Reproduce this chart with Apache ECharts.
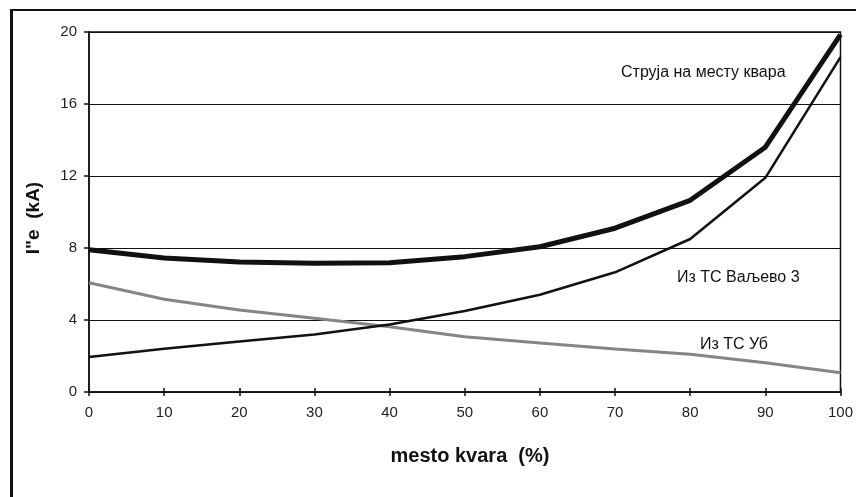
<!DOCTYPE html>
<html>
<head>
<meta charset="utf-8">
<script src="https://cdn.jsdelivr.net/npm/echarts@6/dist/echarts.min.js"></script>
<style>
html,body{margin:0;padding:0;background:#fff;}
#frame{position:absolute;left:10px;top:9px;width:900px;height:600px;border-left:3px solid #111;border-top:2px solid #111;}
#chart{position:absolute;left:0;top:0;width:856px;height:497px;}
</style>
</head>
<body>
<div id="frame"></div>
<div id="chart"></div>
<script>
var xValues = [0, 10, 20, 30, 40, 50, 60, 70, 80, 90, 100];
var faultCurrent = [7.9, 7.45, 7.22, 7.15, 7.18, 7.52, 8.07, 9.1, 10.65, 13.6, 19.85];
var fromValjevo = [1.95, 2.4, 2.8, 3.2, 3.75, 4.5, 5.4, 6.65, 8.5, 11.9, 18.6];
var fromUb = [6.07, 5.15, 4.55, 4.1, 3.63, 3.07, 2.72, 2.39, 2.1, 1.63, 1.07];
var seriesNames = ['Струја на месту квара', 'Из ТС Ваљево 3', 'Из ТС Уб'];
var xTitle = 'mesto kvara  (%)';
var yTitle = 'I"e  (kA)';

function pairs(vals){ return xValues.map(function(x,i){ return [x, vals[i]]; }); }

var chart = echarts.init(document.getElementById('chart'), null, {renderer:'canvas'});
var font = '"Liberation Sans", Arial, sans-serif';
chart.setOption({
  animation:false,
  backgroundColor:'transparent',
  grid:{left:89, right:15, top:32, bottom:105, show:true, borderColor:'#111', borderWidth:1.5},
  xAxis:[{
    type:'value', min:0, max:100, interval:10,
    axisLine:{onZero:false, lineStyle:{color:'#111', width:1.5}},
    axisTick:{show:true, length:4, lineStyle:{color:'#111', width:1.5}},
    axisLabel:{color:'#222', fontSize:15, fontFamily:font, margin:13},
    splitLine:{show:false}
  },{
    type:'value', min:0, max:100, interval:10, position:'bottom',
    axisLine:{show:false},
    axisTick:{show:true, inside:true, length:4, lineStyle:{color:'#111', width:1.5}},
    axisLabel:{show:false}, splitLine:{show:false}
  }],
  yAxis:{
    type:'value', min:0, max:20, interval:4,
    axisLine:{show:true, lineStyle:{color:'#111', width:1.5}},
    axisTick:{show:true, length:5, lineStyle:{color:'#111', width:1.5}},
    axisLabel:{color:'#222', fontSize:15, fontFamily:font, margin:12},
    splitLine:{show:true, lineStyle:{color:'#111', width:1.2}}
  },
  series:[
    {name:seriesNames[2], type:'line', data:pairs(fromUb), showSymbol:false,
     lineStyle:{color:'#858585', width:3}},
    {name:seriesNames[1], type:'line', data:pairs(fromValjevo), showSymbol:false,
     lineStyle:{color:'#111', width:2.5}},
    {name:seriesNames[0], type:'line', data:pairs(faultCurrent), showSymbol:false,
     lineStyle:{color:'#111', width:5}}
  ],
  graphic:[
    {type:'text', left:621, top:65, style:{text:seriesNames[0], fill:'#111', font:'16px '+font}},
    {type:'text', left:677, top:270, style:{text:seriesNames[1], fill:'#111', font:'16px '+font}},
    {type:'text', left:700, top:337, style:{text:seriesNames[2], fill:'#111', font:'16px '+font}},
    {type:'text', x:470, y:456, style:{text:xTitle, fill:'#111', font:'bold 20px '+font, align:'center', verticalAlign:'middle'}},
    {type:'text', x:34, y:218, rotation:Math.PI/2, style:{text:yTitle, fill:'#111', font:'bold 19px '+font, align:'center', verticalAlign:'middle'}}
  ]
});
</script>
</body>
</html>
